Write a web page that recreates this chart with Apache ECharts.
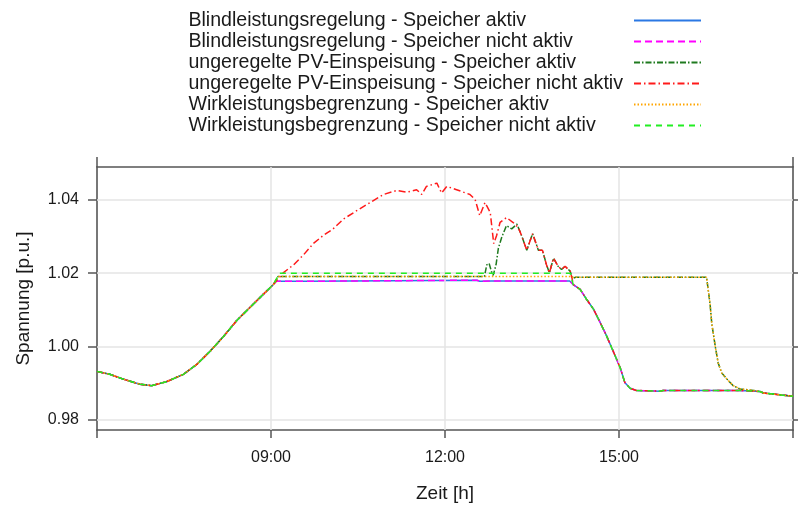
<!DOCTYPE html>
<html>
<head>
<meta charset="utf-8">
<script src="https://cdn.jsdelivr.net/npm/echarts@6/dist/echarts.min.js"></script>
<style>html,body{margin:0;padding:0;background:#fff;}#c{width:798px;height:508px;}</style>
</head>
<body>
<div id="c"></div>
<script>
// ---- data (time in hours, voltage in p.u.) ----
const seriesNames = [
  'Blindleistungsregelung - Speicher aktiv',
  'Blindleistungsregelung - Speicher nicht aktiv',
  'ungeregelte PV-Einspeisung - Speicher aktiv',
  'ungeregelte PV-Einspeisung - Speicher nicht aktiv',
  'Wirkleistungsbegrenzung - Speicher aktiv',
  'Wirkleistungsbegrenzung - Speicher nicht aktiv'
];
const xTicks = [6, 9, 12, 15, 18];
const yTicks = [0.98, 1.00, 1.02, 1.04];

const morningRamp = [
  [6.00, 0.9932], [6.22, 0.9924], [6.45, 0.9911], [6.74, 0.9897], [6.94, 0.9893],
  [7.20, 0.9904], [7.49, 0.9924], [7.72, 0.9951], [7.95, 0.9987], [8.18, 1.0027],
  [8.41, 1.0071], [8.64, 1.0107], [8.87, 1.0143], [9.04, 1.0169]
];
const afternoonDrop = [
  [14.18, 1.0178], [14.21, 1.0169], [14.33, 1.0156], [14.44, 1.0129], [14.56, 1.0102],
  [14.67, 1.0067], [14.78, 1.0031], [14.90, 0.9987], [15.02, 0.9942], [15.10, 0.9902],
  [15.19, 0.9886], [15.30, 0.9880], [15.71, 0.9878], [15.76, 0.9880], [16.51, 0.9880],
  [17.09, 0.9880]
];
const eveningTail = [
  [17.43, 0.9877], [17.49, 0.9873], [17.66, 0.9870], [17.89, 0.9866], [18.00, 0.9864]
];
const lateDrop = [
  [16.53, 1.0189], [16.57, 1.0116], [16.60, 1.0062], [16.66, 1.0000], [16.71, 0.9955],
  [16.77, 0.9928], [16.86, 0.9911], [16.97, 0.9893], [17.09, 0.9884], [17.32, 0.9880]
];
const blindPlateau = [
  [9.09, 1.0178], [9.60, 1.0178], [9.63, 1.0181], [12.55, 1.0181], [12.60, 1.0178],
  [12.80, 1.0179], [14.15, 1.0179]
];
const pvRise = [
  [9.21, 1.0201], [9.39, 1.0223], [9.56, 1.0250], [9.73, 1.0281], [9.90, 1.0303],
  [10.07, 1.0321], [10.25, 1.0348], [10.47, 1.0370], [10.71, 1.0393], [10.94, 1.0415],
  [11.17, 1.0426], [11.34, 1.0421], [11.51, 1.0428], [11.60, 1.0415], [11.68, 1.0437],
  [11.86, 1.0446], [11.94, 1.0419], [12.03, 1.0437], [12.20, 1.0428], [12.43, 1.0415],
  [12.52, 1.0401], [12.60, 1.0357], [12.69, 1.0393], [12.78, 1.0366], [12.84, 1.0281],
  [12.89, 1.0303], [12.95, 1.0339], [13.06, 1.0352], [13.17, 1.0339], [13.26, 1.0326],
  [13.32, 1.0303]
];
const pvFluct = [
  [13.41, 1.0263], [13.51, 1.0308], [13.61, 1.0263], [13.68, 1.0263], [13.75, 1.0223],
  [13.80, 1.0201], [13.87, 1.0241], [13.95, 1.0219], [14.01, 1.0210], [14.07, 1.0219],
  [14.16, 1.0205]
];
const pvStoragePlateau = [[9.12, 1.0191], [12.68, 1.0191]];
const pvStorageBump = [
  [12.72, 1.0223], [12.76, 1.0227], [12.80, 1.0205], [12.83, 1.0194], [12.88, 1.0223],
  [12.92, 1.0268], [12.98, 1.0299], [13.06, 1.0330], [13.15, 1.0321], [13.24, 1.0334],
  [13.32, 1.0303]
];
const storageHold = [[14.20, 1.0185], [14.25, 1.0189], [16.51, 1.0189]];
const wirkStoragePlateau = [[9.12, 1.0191], [14.15, 1.0191], [14.20, 1.0189], [16.51, 1.0189]];
const wirkPlateau = [[9.15, 1.0200], [14.16, 1.0200]];

// ---- series assembly ----
const seriesData = [
  [...morningRamp, ...blindPlateau, ...afternoonDrop, ...eveningTail],
  [...morningRamp, ...blindPlateau, ...afternoonDrop, ...eveningTail],
  [...morningRamp, ...pvStoragePlateau, ...pvStorageBump, ...pvFluct, ...storageHold, ...lateDrop, ...eveningTail],
  [...morningRamp, ...pvRise, ...pvFluct, [14.19, 1.0187], ...afternoonDrop.slice(1), ...eveningTail],
  [...morningRamp, ...wirkStoragePlateau, ...lateDrop, ...eveningTail],
  [...morningRamp, ...wirkPlateau, ...afternoonDrop.slice(1), ...eveningTail]
];
const colors = ['#2b78e4', '#ff00ff', '#1f7a1f', '#ff1a1a', '#ffa500', '#22ee22'];
const dashes = ['solid', [7, 4], [6, 2, 1.5, 2], [7, 3, 1.5, 3], [1.5, 2], [6, 5]];

const chart = echarts.init(document.getElementById('c'), null, {renderer: 'canvas'});
const font = 'Liberation Sans, Arial, sans-serif';
const axisColor = '#555';
const gridColor = '#e4e4e4';

const series = [{
  type: 'line', name: '_grid', data: [], silent: true, z: 1,
  markLine: {
    silent: true, symbol: 'none', animation: false,
    label: {show: false},
    lineStyle: {color: gridColor, width: 1.5, type: 'solid'},
    data: [
      ...yTicks.map(v => ({yAxis: v})),
      ...xTicks.filter(t => t > 6 && t < 18).map(t => ({xAxis: t}))
    ]
  }
}];
seriesNames.forEach((n, i) => {
  series.push({
    type: 'line', name: n, data: seriesData[i], symbol: 'none', showSymbol: false,
    animation: false, z: 3 + i,
    lineStyle: {color: colors[i], width: 1.5, type: dashes[i]},
    itemStyle: {color: colors[i]}
  });
});

chart.setOption({
  animation: false,
  backgroundColor: '#fff',
  grid: {left: 97, right: 5, top: 167, bottom: 73, containLabel: false},
  legend: [{
    data: seriesNames, orient: 'vertical', left: 170, top: 5,
    itemWidth: 0, itemHeight: 21, itemGap: 0, selectedMode: false,
    itemStyle: {opacity: 0}, lineStyle: {opacity: 0},
    textStyle: {fontFamily: font, fontSize: 19.6, color: '#1a1a1a', lineHeight: 21}
  }, {
    data: seriesNames, orient: 'vertical', left: 628, top: 5,
    itemWidth: 67, itemHeight: 21, itemGap: 0, selectedMode: false,
    itemStyle: {opacity: 0},
    formatter: () => ' ',
    textStyle: {fontFamily: font, fontSize: 19.6, lineHeight: 21}
  }],
  xAxis: [{
    type: 'value', min: 6, max: 18, interval: 3, position: 'bottom',
    axisLine: {show: true, onZero: false, lineStyle: {color: axisColor, width: 1.6}},
    axisTick: {show: true, length: 8, lineStyle: {color: axisColor, width: 1.5}},
    splitLine: {show: false},
    axisLabel: {
      fontFamily: font, fontSize: 16, color: '#1a1a1a', margin: 20,
      formatter: v => (v <= 6 || v >= 18) ? '' : (String(v).padStart(2, '0') + ':00')
    },
    name: 'Zeit [h]', nameLocation: 'middle', nameGap: 54,
    nameTextStyle: {fontFamily: font, fontSize: 19, color: '#1a1a1a'}
  }, {
    type: 'value', min: 6, max: 18, position: 'top',
    axisLine: {show: true, onZero: false, lineStyle: {color: axisColor, width: 1.6}},
    axisTick: {show: true, length: 10, customValues: [6, 18], lineStyle: {color: axisColor, width: 1.5}},
    axisLabel: {show: false}, splitLine: {show: false}
  }],
  yAxis: [{
    type: 'value', min: 0.9772, max: 1.049, position: 'left',
    axisLine: {show: true, onZero: false, lineStyle: {color: axisColor, width: 1.6}},
    axisTick: {show: true, length: 9, customValues: yTicks, lineStyle: {color: axisColor, width: 1.5}},
    axisLabel: {
      customValues: yTicks, fontFamily: font, fontSize: 16, color: '#1a1a1a', margin: 18,
      formatter: v => v.toFixed(2)
    },
    splitLine: {show: false},
    name: 'Spannung [p.u.]', nameLocation: 'middle', nameGap: 64, nameRotate: 90,
    nameTextStyle: {fontFamily: font, fontSize: 19, color: '#1a1a1a'}
  }, {
    type: 'value', min: 0.9772, max: 1.049, position: 'right',
    axisLine: {show: true, onZero: false, lineStyle: {color: axisColor, width: 1.6}},
    axisTick: {show: true, length: 8, customValues: yTicks, lineStyle: {color: axisColor, width: 1.5}},
    axisLabel: {show: false}, splitLine: {show: false}
  }],
  series: series
});
</script>
</body>
</html>
